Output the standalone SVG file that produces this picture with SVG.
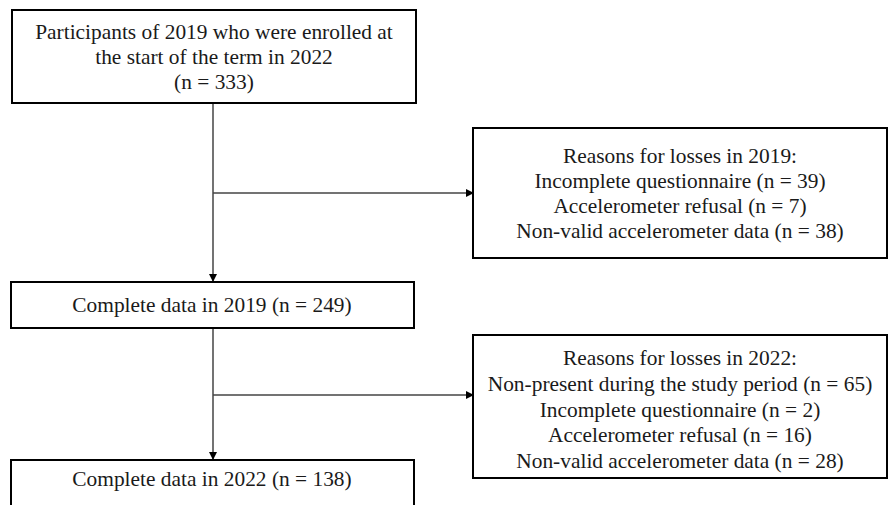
<svg xmlns="http://www.w3.org/2000/svg" width="889" height="505" viewBox="0 0 889 505">
<style>
.box{fill:#fff;stroke:#000;stroke-width:2}
.t{font-family:"Liberation Serif","Times New Roman",serif;font-size:21.4px;fill:#1a1a1a;text-anchor:middle}
.c{stroke:#444;stroke-width:1.5;fill:none}
</style>
<defs>
<marker id="ah" markerWidth="8" markerHeight="8" refX="7" refY="4" orient="auto" markerUnits="userSpaceOnUse">
<path d="M0,0 L8,4 L0,8 z" fill="#000"/>
</marker>
</defs>
<g id="connectors">
<line class="c" x1="213" y1="103" x2="213" y2="281" marker-end="url(#ah)"/>
<line class="c" x1="213" y1="193" x2="473" y2="193" marker-end="url(#ah)"/>
<line class="c" x1="213" y1="328" x2="213" y2="459" marker-end="url(#ah)"/>
<line class="c" x1="213" y1="395" x2="473" y2="395" marker-end="url(#ah)"/>
</g>
<g id="n1">
<rect class="box" x="12" y="10" width="404" height="93"/>
<text class="t" x="214" y="39">Participants of 2019 who were enrolled at</text>
<text class="t" x="214" y="64">the start of the term in 2022</text>
<text class="t" x="214" y="89">(n = 333)</text>
</g>
<g id="n2">
<rect class="box" x="473" y="128" width="414" height="130"/>
<text class="t" x="680" y="163">Reasons for losses in 2019:</text>
<text class="t" x="680" y="188">Incomplete questionnaire (n = 39)</text>
<text class="t" x="680" y="213">Accelerometer refusal (n = 7)</text>
<text class="t" x="680" y="238">Non-valid accelerometer data (n = 38)</text>
</g>
<g id="n3">
<rect class="box" x="11" y="282" width="403" height="46"/>
<text class="t" x="212" y="312">Complete data in 2019 (n = 249)</text>
</g>
<g id="n4">
<rect class="box" x="473" y="335" width="414" height="143"/>
<text class="t" x="680" y="365">Reasons for losses in 2022:</text>
<text class="t" x="680" y="391">Non-present during the study period (n = 65)</text>
<text class="t" x="680" y="417">Incomplete questionnaire (n = 2)</text>
<text class="t" x="680" y="442">Accelerometer refusal (n = 16)</text>
<text class="t" x="680" y="468">Non-valid accelerometer data (n = 28)</text>
</g>
<g id="n5">
<rect class="box" x="11" y="460" width="403" height="60"/>
<text class="t" x="212" y="486">Complete data in 2022 (n = 138)</text>
</g>
</svg>
